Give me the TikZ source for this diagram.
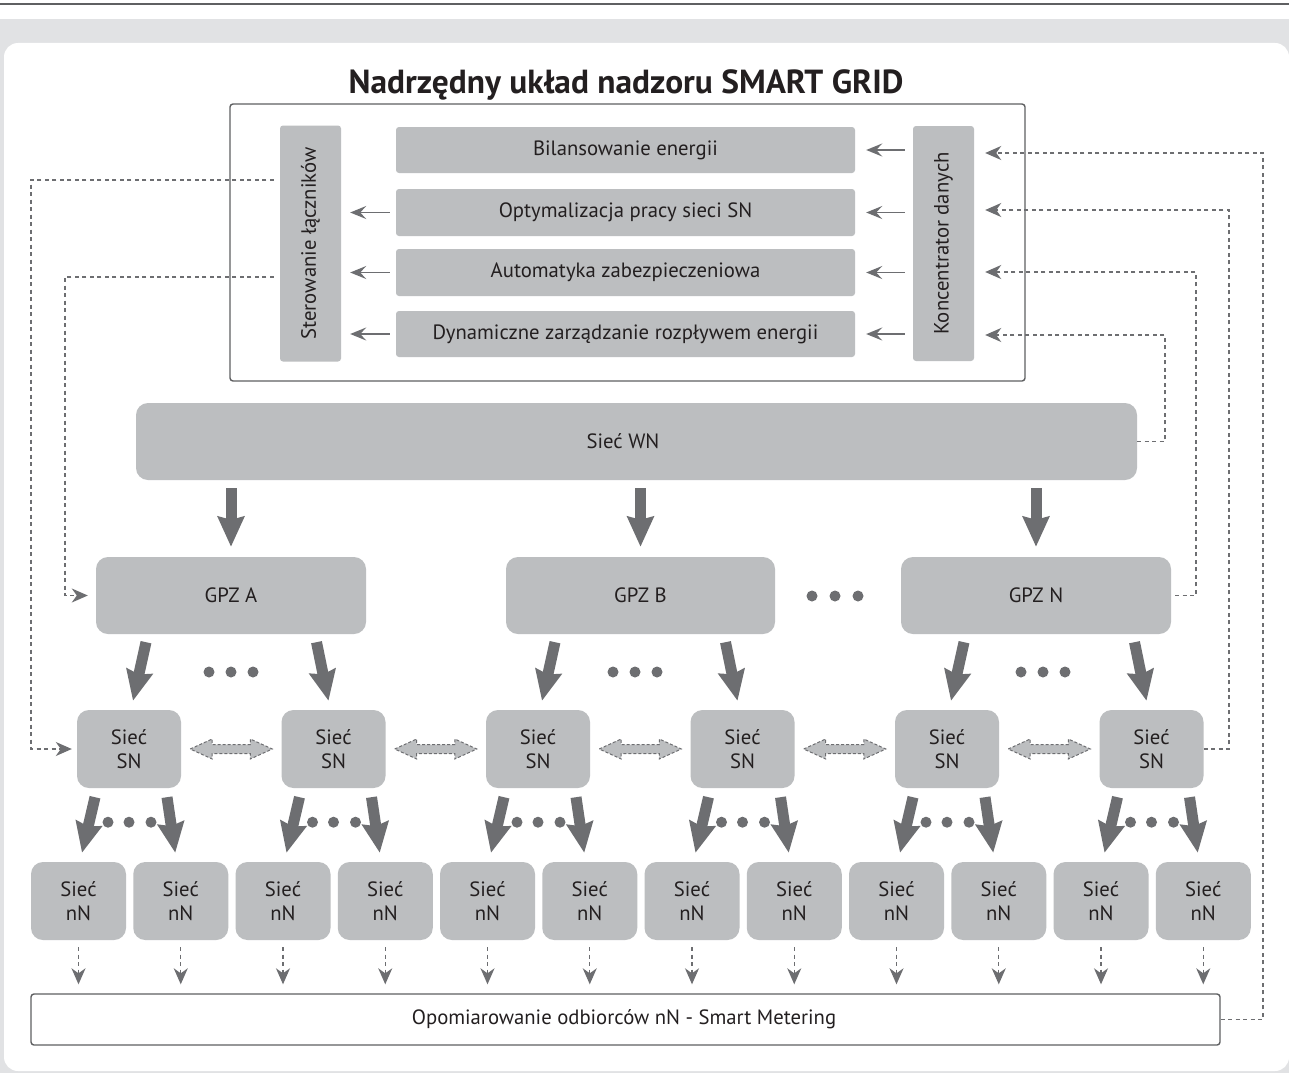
\documentclass[tikz,border=0pt]{standalone}
\usepackage{fontspec}
\setmainfont{PT Sans}
\usetikzlibrary{arrows.meta,calc}
\definecolor{boxgray}{HTML}{BCBEC0}
\definecolor{argray}{HTML}{6D6E71}
\definecolor{bandgray}{HTML}{E1E2E4}
\definecolor{txt}{HTML}{231F20}
\definecolor{framegray}{HTML}{5F6062}
\begin{document}
\begin{tikzpicture}[x=1pt,y=-1pt,
  every node/.style={text=txt, font=\fontsize{20.7}{24.5}\selectfont, inner sep=0pt},
  sz/.style 2 args={minimum width=#1pt, minimum height=#2pt},
  gbox/.style={fill=boxgray, rounded corners=12pt, align=center},
  sbox/.style={fill=boxgray, rounded corners=3pt, align=center},
  fatar/.style={draw=argray, line width=11pt, -{Stealth[length=30pt,width=26pt,inset=3pt]}},
  thinar/.style={draw=argray, line width=1.5pt, -{Stealth[length=16pt,width=13pt,inset=6pt]}},
  dashln/.style={draw=argray, line width=1.3pt, dash pattern=on 4pt off 3.5pt},
  dashar/.style={dashln, -{Stealth[length=16pt,width=14pt,inset=5pt]}},
  dblar/.style={fill=boxgray, draw=argray, line width=1pt, dash pattern=on 3pt off 2pt},
  dotf/.style={fill=argray}]
\useasboundingbox (0,0) rectangle (1289,1073);
% background
\fill[bandgray] (0,19) rectangle (1289,1073);
\fill[white, rounded corners=14pt] (4,43) rectangle (1289,1071);
\draw[framegray, line width=1.6pt] (0,4) -- (1289,4);

% supervisory frame and title
\node[draw=framegray, line width=1.4pt, rounded corners=3pt, sz={795}{277}] (frame) at (627.5,242.5) {};
\node[font=\fontsize{33.4}{38}\selectfont\bfseries, anchor=base] (title) at (626,93.5) {Nadrzędny układ nadzoru SMART GRID};

\node[sbox, sz={61}{236}] (ster) at (310.5,243.5) {};
\node[rotate=90] (stertxt) at (ster.center) {Sterowanie łączników};
\node[sbox, sz={61}{235}] (kon) at (943.5,243.5) {};
\node[rotate=90] (kontxt) at (kon.center) {Koncentrator danych};

\node[sbox, sz={459}{46}] (bil) at (625.5,150) {Bilansowanie energii};
\node[sbox, sz={459}{47}] (opt) at (625.5,212.5) {Optymalizacja pracy sieci SN};
\node[sbox, sz={459}{47}] (aut) at (625.5,272.5) {Automatyka zabezpieczeniowa};
\node[sbox, sz={459}{46}] (dyn) at (625.5,334) {Dynamiczne zarządzanie rozpływem energii};

% thin arrows
\foreach \b in {bil,opt,aut,dyn}
  \draw[thinar] ([xshift=-8pt]kon.west |- \b.east) -- ([xshift=11pt]\b.east);
\foreach \b in {opt,aut,dyn}
  \draw[thinar] ([xshift=-6pt]\b.west) -- ([xshift=9pt]ster.east |- \b.west);

% WN
\node[gbox, sz={1001}{77}] (wn) at (636.5,441.5) {};
\node (wntxt) at (623,441.5) {Sieć WN};

% GPZ
\node[gbox, sz={270}{77}] (gpzA) at (231,595.5) {GPZ A};
\node[gbox, sz={269}{77}] (gpzB) at (640.5,595.5) {GPZ B};
\node[gbox, sz={270}{77}] (gpzN) at (1036,595.5) {GPZ N};
\foreach \g in {gpzA,gpzB,gpzN}
  \draw[fatar] ($(wn.south -| \g.north)+(0,8)$) -- ($(\g.north)+(0,-10)$);
\foreach \x in {812,835,858} \fill[dotf] (\x,596) circle (5.5pt);

% SN
\foreach \i in {1,...,6} {
  \pgfmathsetmacro\cx{129+204.5*(\i-1)}
  \node[gbox, sz={104}{78}] (sn\i) at (\cx,749) {Sieć\\SN};
}
\foreach \g/\l/\r/\dx in {gpzA/sn1/sn2/231, gpzB/sn3/sn4/635, gpzN/sn5/sn6/1043} {
  \draw[fatar] ($(\g.south -| \l.north)+(17,8)$) -- ($(\l.north)+(4,-9)$);
  \draw[fatar] ($(\g.south -| \r.north)+(-17,8)$) -- ($(\r.north)+(-5,-9)$);
  \foreach \o in {-22,0,22} \fill[dotf] (\dx+\o,672) circle (5.5pt);
}
% double arrows between SN
\foreach \a/\b in {sn1/sn2,sn2/sn3,sn3/sn4,sn4/sn5,sn5/sn6} {
  \path ([xshift=9pt]\a.east) coordinate (dl) ([xshift=-9pt]\b.west) coordinate (dr);
  \draw[dblar] (dl) -- ++(22,-10) -- ++(0,5.5) -- ($(dr)+(-22,-4.5)$) -- ++(0,-5.5) -- (dr)
     -- ++(-22,10) -- ++(0,-5.5) -- ($(dl)+(22,4.5)$) -- ++(0,5.5) -- cycle;
}

% nN
\foreach \i in {1,...,12} {
  \pgfmathsetmacro\cx{78.5+102.25*(\i-1)}
  \node[gbox, sz={95}{78}] (nn\i) at (\cx,901) {Sieć\\nN};
}
\foreach \i in {1,...,6} {
  \pgfmathtruncatemacro\l{2*\i-1}
  \pgfmathtruncatemacro\r{2*\i}
  \draw[fatar] ($(sn\i.south)+(-34,9)$) -- ($(nn\l.north)+(3.5,-9)$);
  \draw[fatar] ($(sn\i.south)+(38,9)$) -- ($(nn\r.north)+(-5.5,-9)$);
  \foreach \o in {-21,0,22} \fill[dotf] ($(sn\i.south)+(\o,34)$) circle (5.5pt);
}

% metering
\node[fill=white, draw=framegray, line width=1.4pt, rounded corners=3pt, sz={1189}{51}] (opom) at (625.5,1019.5) {};
\node (opomtxt) at (624,1019.5) {Opomiarowanie odbiorców nN - Smart Metering};
\foreach \i in {1,...,12}
  \draw[dashar] ([yshift=-7pt]nn\i.south) -- ([yshift=9pt]nn\i.south |- opom.north);

% dashed feedback lines to the concentrator
\draw[dashar, shorten >=11pt] (opom.east) -| (1263,153) -- (kon.east |- 0,153);
\draw[dashar, shorten >=11pt] (sn6.east) -| (1229,210) -- (kon.east |- 0,210);
\draw[dashar, shorten >=11pt] ([xshift=4pt]gpzN.east) -| (1196,272) -- (kon.east |- 0,272);
\draw[dashar, shorten >=11pt] (wn.east) -| (1165,335) -- (kon.east |- 0,335);

% control lines from Sterowanie
\draw[dashar, shorten >=5pt] ([xshift=-6pt]ster.west |- 0,180) -| (31,749) -- (sn1.west);
\draw[dashar, shorten >=8pt] ([xshift=-6pt]ster.west |- 0,277) -| (65,595.5) -- (gpzA.west);
\end{tikzpicture}
\end{document}
